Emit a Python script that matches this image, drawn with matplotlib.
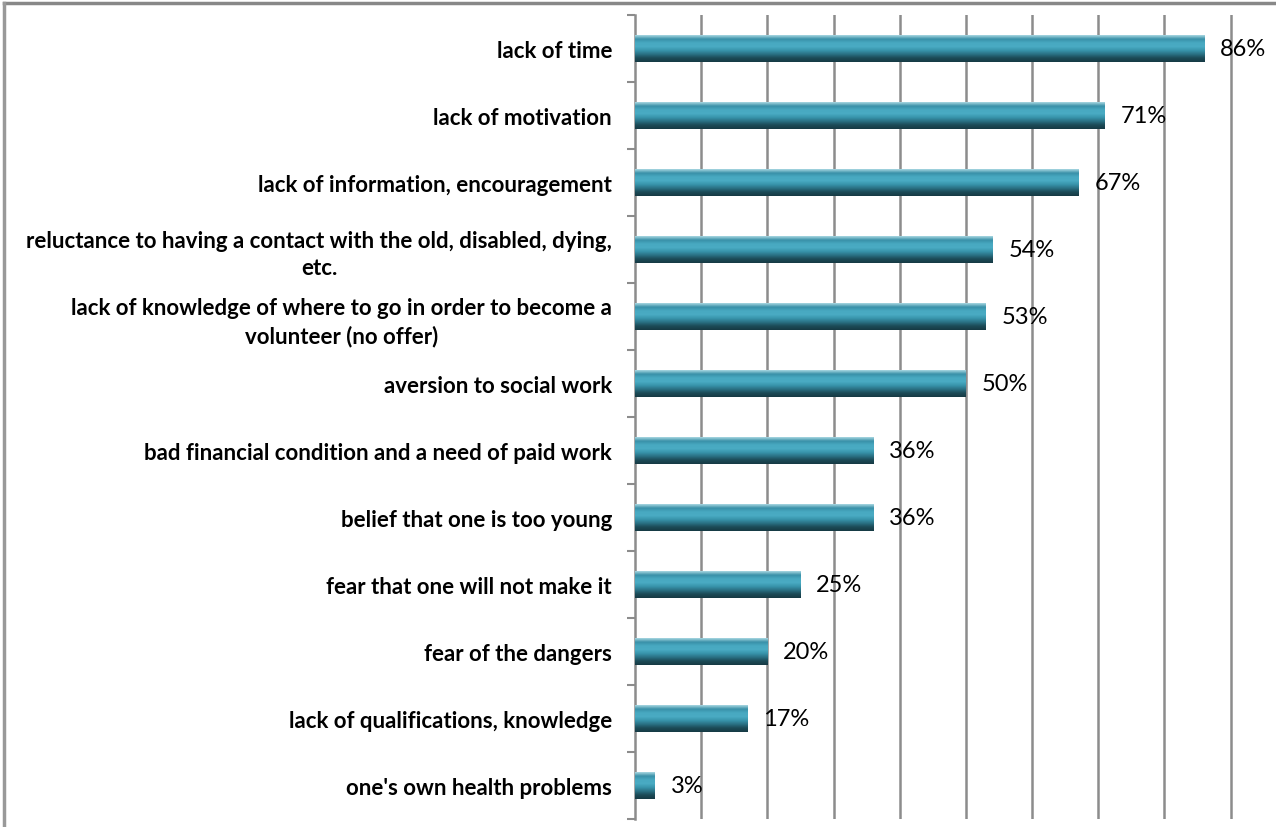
import numpy as np
import matplotlib.pyplot as plt
from matplotlib.colors import LinearSegmentedColormap
from matplotlib.lines import Line2D

plt.rcParams['font.family'] = ['Lato', 'DejaVu Sans']

reasons = [
    "lack of time",
    "lack of motivation",
    "lack of information, encouragement",
    "reluctance to having a contact with the old, disabled, dying,\netc.",
    "lack of knowledge of where to go in order to become a\nvolunteer (no offer)",
    "aversion to social work",
    "bad financial condition and a need of paid work",
    "belief that one is too young",
    "fear that one will not make it",
    "fear of the dangers",
    "lack of qualifications, knowledge",
    "one's own health problems",
]
percent = [86, 71, 67, 54, 53, 50, 36, 36, 25, 20, 17, 3]

# vertical shading of the bars, top to bottom
bar_cmap = LinearSegmentedColormap.from_list(
    "teal", ["#a6d6e0", "#3990a8", "#48a9c1", "#4aabc3", "#3894ab", "#2a7083", "#1c4b57", "#163a44"])
shade = np.linspace(0, 1, 64).reshape(-1, 1)

fig = plt.figure(figsize=(12.76, 8.28), dpi=100)
ax = fig.add_axes([635 / 1276, 1 - 820 / 828, 630 / 1276, 804 / 828])

n = len(reasons)
y = np.arange(n)
bar_h = 0.39
for yi, v in zip(y, percent):
    ax.imshow(shade, cmap=bar_cmap, aspect='auto', interpolation='bilinear',
              extent=[0, v, yi + bar_h / 2, yi - bar_h / 2], zorder=3)
    ax.text(v + 2.4, yi, f"{v}%", va='center', ha='left', fontsize=17, zorder=4)

ax.set_xlim(0, 95.2)
ax.set_ylim(n - 0.5, -0.5)

for gx in range(10, 100, 10):
    ax.axvline(gx, color='#8c8c8c', lw=1.8, zorder=1)

ax.set_yticks(y)
ax.set_yticklabels(reasons, fontsize=16, fontweight='bold', multialignment='center',
                   linespacing=1.35)
ax.set_yticks(np.arange(-0.5, n, 1), minor=True)
ax.tick_params(axis='y', which='major', length=0, pad=16.5)
ax.tick_params(axis='y', which='minor', length=6, width=1.5, color='#8c8c8c')
ax.set_xticks([])

for side in ['top', 'right', 'bottom']:
    ax.spines[side].set_visible(False)
ax.spines['left'].set_color('#8c8c8c')
ax.spines['left'].set_linewidth(1.8)

# outer chart border (top and left edges)
fig.add_artist(Line2D([4 / 1276, 1], [1 - 4 / 828] * 2, color='#888888', lw=2.5))
fig.add_artist(Line2D([4 / 1276] * 2, [0, 1 - 4 / 828], color='#999999', lw=2.5))

fig.savefig("out.png", dpi=100)
